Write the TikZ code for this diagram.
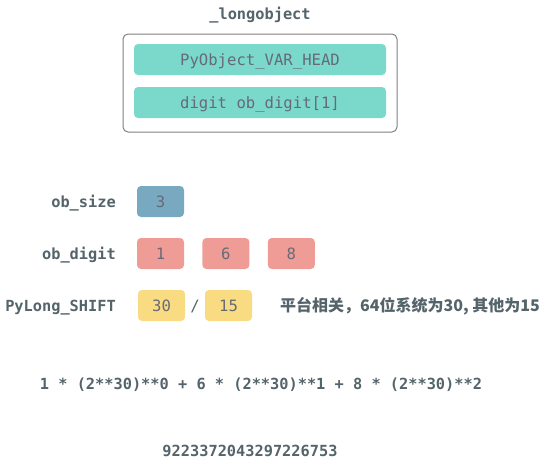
\documentclass[tikz,border=0pt]{standalone}
\usepackage{fontspec}
\setmainfont{DejaVu Sans}
\setmonofont{DejaVu Sans Mono}
\newfontfamily\cjk{Noto Sans CJK SC}
\usetikzlibrary{positioning}
\definecolor{labelgray}{RGB}{84,100,106}
\definecolor{boxtext}{RGB}{102,106,120}
\definecolor{framegray}{RGB}{128,128,128}
\definecolor{tealbox}{RGB}{122,217,203}
\definecolor{bluebox}{RGB}{121,169,193}
\definecolor{redbox}{RGB}{240,156,150}
\definecolor{yellowbox}{RGB}{249,220,130}
\tikzset{
	node distance=18pt,
	cell/.style={rounded corners=4pt, minimum width=47pt, minimum height=31pt, inner sep=0pt,
		text height=11.3pt, text depth=0pt,
		text=boxtext, font=\ttfamily\fontsize{15.6}{15.6}\selectfont},
	field/.style={cell, fill=tealbox, minimum width=252pt},
	fieldname/.style={anchor=base east, inner sep=0pt, text=labelgray,
		font=\ttfamily\bfseries\fontsize{15.3}{15.3}\selectfont},
	plaintext/.style={anchor=base, inner sep=0pt, text=labelgray,
		font=\ttfamily\bfseries\fontsize{15.3}{15.3}\selectfont},
}

\begin{document}
\begin{tikzpicture}[x=1pt, y=-1pt]
	\useasboundingbox (0,0) rectangle (543,463);
	
	% struct layout
	\node [plaintext] (TITLE) at (260,19.5) {\_longobject};
	\node [draw=framegray, line width=1pt, rounded corners=5pt, minimum width=274pt, minimum height=98pt] (STRUCT) at (260,83) {};
	\node [field] (HEAD) at (260,59.5) {PyObject\_VAR\_HEAD};
	\node [field] (DIGITS) at (260,102.5) {digit ob\_digit[1]};
	
	% ob_size
	\node [fieldname] (SIZElabel) at (116,207) {ob\_size};
	\node [cell, fill=bluebox] (SIZE) at (160.5,201.5) {3};
	
	% ob_digit
	\node [fieldname] (DIGITlabel) at (116,259) {ob\_digit};
	\node [cell, fill=redbox] (DIGITa) at (160.5,253.5) {1};
	\node [cell, fill=redbox, right=of DIGITa] (DIGITb) {6};
	\node [cell, fill=redbox, right=of DIGITb] (DIGITc) {8};
	
	% PyLong_SHIFT
	\node [fieldname] (SHIFTlabel) at (116,311) {PyLong\_SHIFT};
	\node [cell, fill=yellowbox] (SHIFTa) at (161.5,305.5) {30};
	\node [cell, text=labelgray] (SLASH) at (195,305.5) {/};
	\node [cell, fill=yellowbox] (SHIFTb) at (228.5,305.5) {15};
	\node [anchor=base west, inner sep=0pt, text=labelgray, font=\cjk\bfseries\fontsize{16}{16}\selectfont] (NOTE) at (280,311.5) {平台相关，64位系统为30, 其他为15};
	
	% value
	\node [plaintext] (FORMULA) at (261,389) {1 * (2**30)**0 + 6 * (2**30)**1 + 8 * (2**30)**2};
	\node [plaintext] (RESULT) at (250,456.5) {9223372043297226753};
	
\end{tikzpicture}
\end{document}
